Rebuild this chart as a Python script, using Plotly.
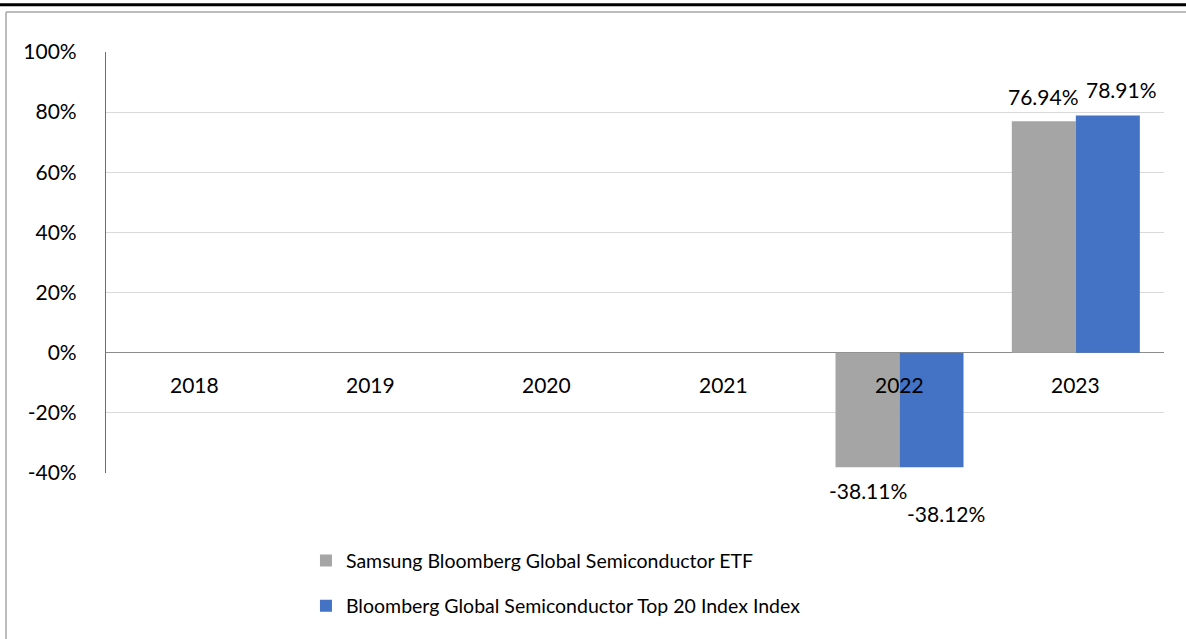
import plotly.graph_objects as go

years = ["2018", "2019", "2020", "2021", "2022", "2023"]
etf_values = [None, None, None, None, -38.11, 76.94]
index_values = [None, None, None, None, -38.12, 78.91]
series_names = ["Samsung Bloomberg Global Semiconductor ETF",
                "Bloomberg Global Semiconductor Top 20 Index Index"]
y_ticks = [-40, -20, 0, 20, 40, 60, 80, 100]

FONT = "Lato, 'Open Sans', sans-serif"
GRAY = "#A5A5A5"
BLUE = "#4472C4"

fig = go.Figure()
fig.add_trace(go.Bar(x=years, y=etf_values, name=series_names[0],
                     marker=dict(color=GRAY, line=dict(width=0)),
                     legendgroup="a"))
fig.add_trace(go.Bar(x=years, y=index_values, name=series_names[1],
                     marker=dict(color=BLUE, line=dict(width=0)),
                     legendgroup="b"))

# data labels (x given as category index)
label_cfg = [(etf_values, -32, 0), (index_values, 32, 14)]
for vals, xs, extra in label_cfg:
    for i, v in enumerate(vals):
        if v is None:
            continue
        if v >= 0:
            ys = 25 if xs < 0 else 26
        else:
            ys = -23 if xs < 0 else -46
        fig.add_annotation(x=i, y=v, text=f"{v:.2f}%", showarrow=False,
                           xshift=xs + extra, yshift=ys,
                           font=dict(family=FONT, size=21, color="#000000"))

# category labels next to the zero axis
for i, yr in enumerate(years):
    fig.add_annotation(x=i, y=0, text=yr, showarrow=False, yshift=-32,
                       font=dict(family=FONT, size=21, color="#000000"))

fig.update_layout(
    width=1186, height=639,
    margin=dict(l=106, r=22, t=52, b=166),
    paper_bgcolor="white", plot_bgcolor="white",
    barmode="group", bargap=0.274, bargroupgap=0,
    font=dict(family=FONT, size=19, color="#000000"),
    showlegend=True,
    legend=dict(orientation="v", x=0.189, xanchor="left", y=-0.162, yanchor="top",
                font=dict(family=FONT, size=19.5), tracegroupgap=17,
                bgcolor="rgba(0,0,0,0)"),
    xaxis=dict(type="category", categoryorder="array", categoryarray=years,
               range=[-0.5, len(years) - 0.5],
               showticklabels=False, showgrid=False, zeroline=False, showline=False,
               ticks=""),
    yaxis=dict(range=[-40, 100], tickvals=y_ticks,
               ticktext=[f"{t}%" for t in y_ticks],
               showgrid=True, gridcolor="#D9D9D9", gridwidth=1,
               zeroline=True, zerolinecolor="#8C8C8C", zerolinewidth=1,
               showline=True, linecolor=BLUE, linewidth=1.2,
               ticks="", ticklabelstandoff=24,
               tickfont=dict(family=FONT, size=21)),
)

# frame: thick black top rule and thin gray box edge
fig.add_shape(type="line", xref="paper", yref="paper",
              x0=-0.2, x1=1.1, y0=1.112, y1=1.112,
              line=dict(color="#000000", width=3))
fig.add_shape(type="line", xref="paper", yref="paper",
              x0=-0.0945, x1=1.1, y0=1.095, y1=1.095,
              line=dict(color="#A6A6A6", width=1.5))
fig.add_shape(type="line", xref="paper", yref="paper",
              x0=-0.0945, x1=-0.0945, y0=1.095, y1=-0.5,
              line=dict(color="#A6A6A6", width=1.5))

fig.write_html("out.html", config={"displayModeBar": False},
               post_script="document.body.style.margin='0';")
